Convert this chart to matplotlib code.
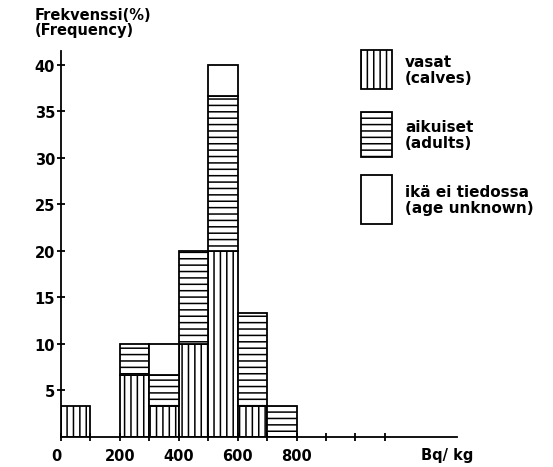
import matplotlib
matplotlib.use('Agg')
import matplotlib.pyplot as plt
from matplotlib.patches import Rectangle
import numpy as np

# histogram bins (Bq/kg) and frequency (%) per age group
bin_left = [0, 100, 200, 300, 400, 500, 600, 700]
calves = [3.33, 0, 6.67, 3.33, 10, 20, 3.33, 0]
adults = [0, 0, 3.33, 3.33, 10, 16.67, 10, 3.33]
unknown = [0, 0, 0, 3.33, 0, 3.33, 0, 0]

y_ticks = [5, 10, 15, 20, 25, 30, 35, 40]
x_label_ticks = [0, 200, 400, 600, 800]
x_minor_ticks = [100, 300, 500, 700, 900, 1000, 1100]

legend_labels = ['vasat\n(calves)', 'aikuiset\n(adults)', 'ikä ei tiedossa\n(age unknown)']
hatches = ['|||', '---', '']

# dpi picked so that the hatch spacing is close to the scanned figure;
# k converts "pixel at 100 dpi" sizes into points at this dpi
DPI = 115
k = 100 / DPI

plt.rcParams['font.family'] = 'DejaVu Sans'
plt.rcParams['font.weight'] = 'bold'
plt.rcParams['hatch.linewidth'] = 1.1 * k

W, H = 553, 468
fig = plt.figure(figsize=(W / DPI, H / DPI), dpi=DPI)
ax = fig.add_axes([61 / W, 1 - 438 / H, (457 - 61) / W, (438 - 52) / H])

lw = 1.3 * k
bottom = np.zeros(len(bin_left))
for vals, hatch in zip([calves, adults, unknown], hatches):
    vals = np.array(vals)
    mask = vals > 0
    ax.bar(np.array(bin_left)[mask], vals[mask], width=100, bottom=bottom[mask],
           align='edge', color='white', edgecolor='black', linewidth=lw, hatch=hatch)
    bottom += vals

ax.set_xlim(0, 1345)
ax.set_ylim(0, 41.5)
for s in ['top', 'right']:
    ax.spines[s].set_visible(False)
for s in ['left', 'bottom']:
    ax.spines[s].set_linewidth(lw)

ax.set_yticks(y_ticks)
ax.set_yticklabels([str(v) for v in y_ticks])
ax.set_xticks(x_label_ticks)
ax.set_xticklabels([str(v) for v in x_label_ticks])
ax.set_xticks(x_minor_ticks, minor=True)
ax.tick_params(axis='both', which='both', direction='inout', length=6 * k, width=lw,
               labelsize=10.5 * k)
ax.tick_params(axis='y', pad=1)
ax.tick_params(axis='x', pad=5 * k)
# the origin "0" sits just left of the y axis in the original
ax.get_xticklabels()[0].set_horizontalalignment('right')

ax.text(1313, -1.85, 'Bq/ kg', ha='center', va='center', fontsize=10.5 * k,
        fontweight='bold', clip_on=False)

fig.text(35 / W, 1 - 8 / H, 'Frekvenssi(%)\n(Frequency)', ha='left', va='top',
         fontsize=10.5 * k, fontweight='bold', linespacing=1.0)

# hand-made legend at the upper right
box_tops = [51, 113, 176]
box_bottoms = [90, 158, 225]
for lab, hatch, top, bot in zip(legend_labels, hatches, box_tops, box_bottoms):
    r = Rectangle((361 / W, 1 - bot / H), 31 / W, (bot - top) / H,
                  transform=fig.transFigure, facecolor='white', edgecolor='black',
                  linewidth=lw, hatch=hatch)
    fig.add_artist(r)
    fig.text(405 / W, 1 - (top + bot) / 2 / H, lab, ha='left', va='center',
             fontsize=11 * k, fontweight='bold', linespacing=1.05)

fig.savefig('out.png', dpi=DPI)
